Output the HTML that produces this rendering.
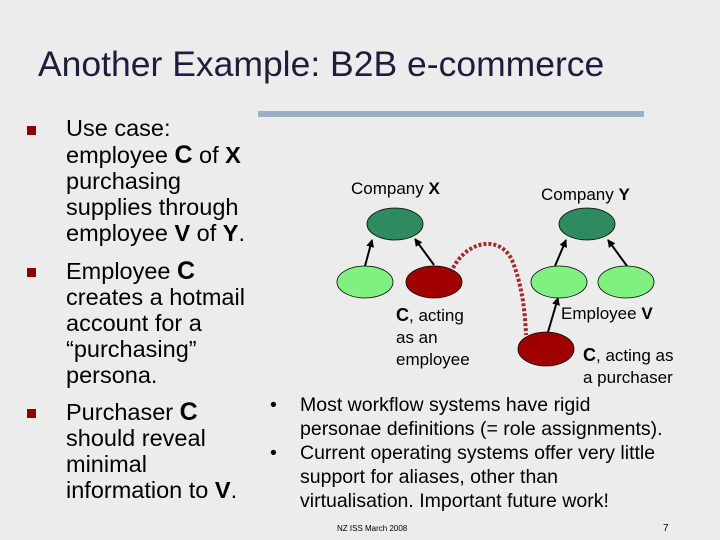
<!DOCTYPE html>
<html><head><meta charset="utf-8"><style>
html,body{margin:0;padding:0;background:#ececec;}
svg{display:block;font-family:"Liberation Sans",sans-serif;}
</style></head><body>
<svg width="720" height="540" viewBox="0 0 720 540">
<rect width="720" height="540" fill="#ececec"/>
<text x="38" y="76" font-size="35.5" fill="#1e1e3c">Another Example: B2B e-commerce</text>
<rect x="258" y="111" width="386" height="6" fill="#9bb0c8"/>
<g fill="#8b0000">
<rect x="27" y="126" width="9" height="9"/><rect x="27" y="268" width="9" height="9"/><rect x="27" y="409" width="9" height="9"/>
</g>
<g font-size="23.5" fill="#000">
<text x="66" y="136">Use case:</text>
<text x="66" y="163">employee <tspan font-weight="bold" font-size="25">C</tspan> of <tspan font-weight="bold">X</tspan></text>
<text x="66" y="189">purchasing</text>
<text x="66" y="215">supplies through</text>
<text x="66" y="241">employee <tspan font-weight="bold">V</tspan> of <tspan font-weight="bold">Y</tspan>.</text>
<text x="66" y="279">Employee <tspan font-weight="bold" font-size="25">C</tspan></text>
<text x="66" y="305">creates a hotmail</text>
<text x="66" y="331">account for a</text>
<text x="66" y="357">“purchasing”</text>
<text x="66" y="383">persona.</text>
<text x="66" y="420">Purchaser <tspan font-weight="bold" font-size="25">C</tspan></text>
<text x="66" y="446">should reveal</text>
<text x="66" y="472">minimal</text>
<text x="66" y="498">information to <tspan font-weight="bold">V</tspan>.</text>
</g>
<defs><marker id="a" markerWidth="8" markerHeight="8" refX="7" refY="4" orient="auto" markerUnits="userSpaceOnUse"><path d="M0,0 L8,4 L0,8z" fill="#000"/></marker></defs>
<g stroke="#000" stroke-width="2" marker-end="url(#a)">
<line x1="365" y1="266" x2="372" y2="240"/>
<line x1="434" y1="265" x2="415" y2="239"/>
<line x1="555" y1="266" x2="566" y2="240"/>
<line x1="627" y1="266" x2="608" y2="240"/>
<line x1="548" y1="332" x2="558" y2="298"/>
</g>
<path d="M453,268 C468,240 500,235 512,260 C522,285 525,310 526,335" fill="none" stroke="#a52a2a" stroke-width="4" stroke-dasharray="3,2"/>
<g stroke="#000" stroke-width="0.8">
<ellipse cx="395" cy="224" rx="28" ry="16" fill="#2e8b60"/>
<ellipse cx="587" cy="224" rx="28" ry="16" fill="#2e8b60"/>
<ellipse cx="365" cy="282" rx="28" ry="16" fill="#80f080"/>
<ellipse cx="434" cy="282" rx="28" ry="16" fill="#a00000"/>
<ellipse cx="559" cy="282" rx="28" ry="16" fill="#80f080"/>
<ellipse cx="626" cy="282" rx="28" ry="16" fill="#80f080"/>
<ellipse cx="546" cy="349" rx="28" ry="17" fill="#a00000"/>
</g>
<g font-size="17" fill="#000">
<text x="351" y="194">Company <tspan font-weight="bold">X</tspan></text>
<text x="541" y="200">Company <tspan font-weight="bold">Y</tspan></text>
<text x="396" y="321"><tspan font-weight="bold" font-size="18">C</tspan>, acting</text>
<text x="396" y="343">as an</text>
<text x="396" y="365">employee</text>
<text x="561" y="319">Employee <tspan font-weight="bold">V</tspan></text>
<text x="583" y="361"><tspan font-weight="bold" font-size="18">C</tspan>, acting as</text>
<text x="583" y="383">a purchaser</text>
</g>
<g font-size="19.5" fill="#000">
<text x="270" y="411">•</text>
<text x="300" y="411">Most workflow systems have rigid</text>
<text x="300" y="435">personae definitions (= role assignments).</text>
<text x="270" y="459">•</text>
<text x="300" y="459">Current operating systems offer very little</text>
<text x="300" y="483">support for aliases, other than</text>
<text x="300" y="507">virtualisation.  Important future work!</text>
</g>
<text x="337" y="531" font-size="8" fill="#000">NZ ISS March 2008</text>
<text x="663" y="531" font-size="10" fill="#000">7</text>
</svg>
</body></html>
